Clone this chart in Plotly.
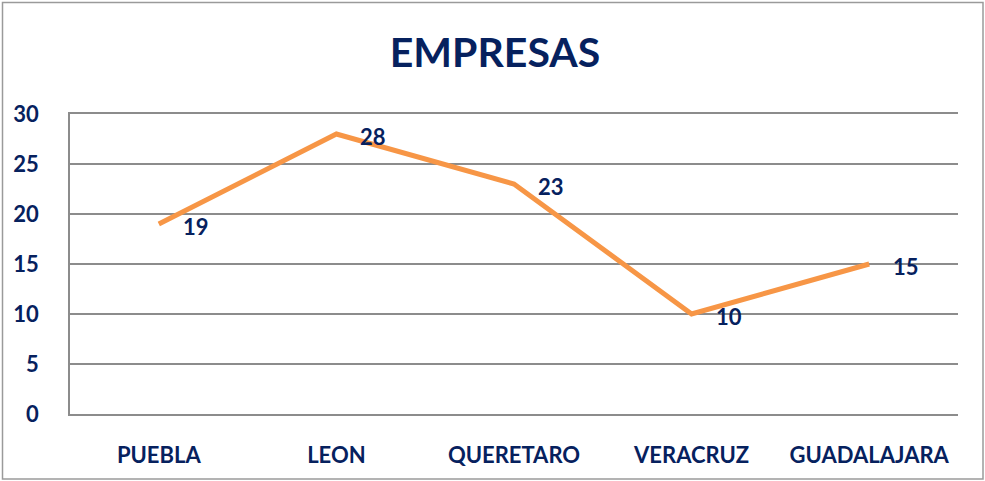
import plotly.graph_objects as go

categories = ["PUEBLA", "LEON", "QUERETARO", "VERACRUZ", "GUADALAJARA"]
empresas = [19, 28, 23, 10, 15]
y_ticks = [0, 5, 10, 15, 20, 25, 30]
title_text = "EMPRESAS"

NAVY = "#06215E"
ORANGE = "#F79646"
GRID = "#8C8C8C"
FONT = "Lato, Carlito, Calibri, sans-serif"

fig = go.Figure()
fig.add_trace(go.Scatter(
    x=categories, y=empresas, mode="lines",
    line=dict(color=ORANGE, width=5), hoverinfo="skip", showlegend=False,
))
for c, v in zip(categories, empresas):
    fig.add_annotation(x=c, y=v, text=f"<b>{v}</b>", showarrow=False,
                       xshift=37, yshift=-2,
                       font=dict(family=FONT, size=22, color=NAVY))

L, R, T, B = 70, 27, 114, 67
W, H = 985, 481
pw, ph = W - L - R, H - T - B
fig.add_shape(type="rect", xref="paper", yref="paper",
              x0=(2.5 - L) / pw, x1=(983 - L) / pw,
              y0=(H - B - 479) / ph, y1=(H - B - 2.5) / ph,
              line=dict(color="#9A9A9A", width=1.5), fillcolor="rgba(0,0,0,0)")

fig.update_layout(
    width=W, height=H,
    margin=dict(l=L, r=R, t=T, b=B),
    paper_bgcolor="white", plot_bgcolor="white",
    title=dict(text=f"<b>{title_text}</b>", x=495 / W, xanchor="center",
               y=1 - 53 / H, yanchor="middle",
               font=dict(family=FONT, size=41, color=NAVY)),
    xaxis=dict(type="category", range=[-0.5, 4.5], showgrid=False,
               showline=True, mirror=True, linecolor=GRID, linewidth=1.5,
               ticks="", ticklabelstandoff=21,
               tickfont=dict(family=FONT, size=22, color=NAVY),
               tickvals=categories, ticktext=[f"<b>{c}</b>" for c in categories]),
    yaxis=dict(range=[0, 30], tickvals=y_ticks,
               ticktext=[f"<b>{t}</b>" for t in y_ticks],
               showgrid=True, gridcolor=GRID, gridwidth=1.5,
               zeroline=True, zerolinecolor=GRID, zerolinewidth=1.5,
               showline=True, linecolor=GRID, linewidth=1.5,
               ticks="", ticklabelstandoff=25,
               tickfont=dict(family=FONT, size=22, color=NAVY)),
)

fig.write_html("out.html", config={"displayModeBar": False},
               post_script="document.body.style.margin='0px';")
